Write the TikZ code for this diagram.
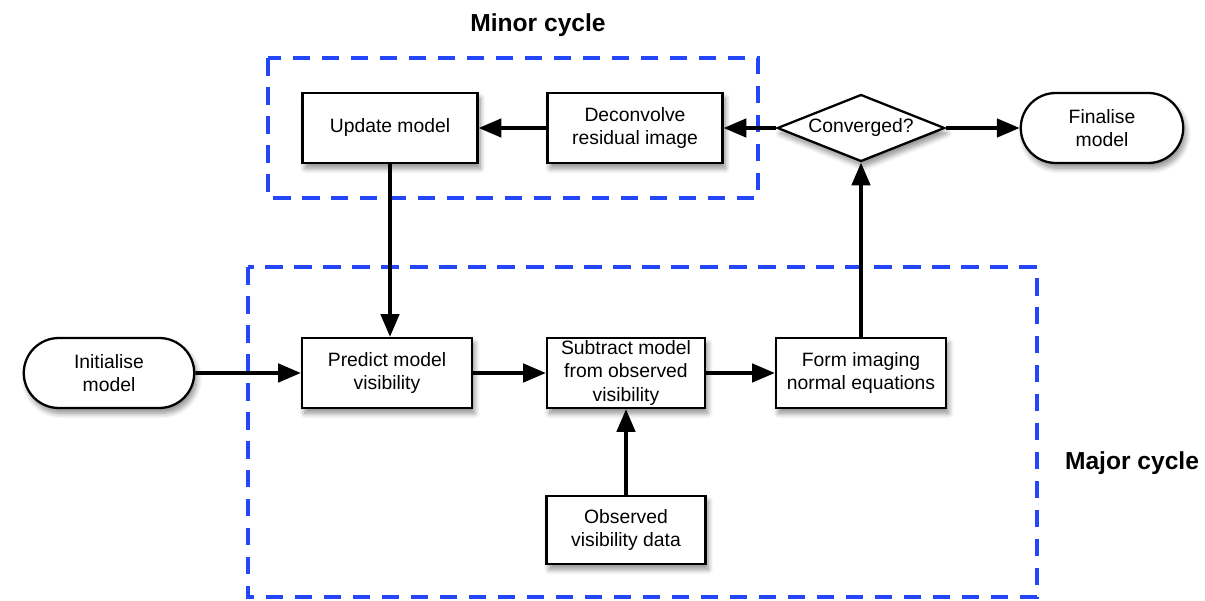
\documentclass[tikz,border=0pt]{standalone}
\usepackage{fontspec}
\setmainfont{Liberation Sans}
\usetikzlibrary{shapes.geometric,shapes.misc,shadows.blur,arrows.meta}
\definecolor{dashblue}{RGB}{35,70,250}
\tikzset{
  proc/.style={draw=black, line width=1.3pt, fill=white, minimum width=3.5cm, minimum height=1.4cm,
    align=center, font=\fontsize{11}{13.5}\selectfont, inner sep=1pt,
    blur shadow={shadow xshift=1.5pt, shadow yshift=-3pt, shadow blur steps=8, shadow blur radius=3pt, shadow opacity=45}},
  term/.style={proc, rounded rectangle},
  decision/.style={proc, diamond, aspect=2.5, minimum width=3.35cm, minimum height=1.34cm, inner sep=0pt},
  flow/.style={line width=2pt, -{Triangle[length=13pt, width=10.5pt]}},
  cyclebox/.style={draw=dashblue, line width=2.2pt, dash pattern=on 10pt off 6.5pt},
  cyclelabel/.style={font=\bfseries\fontsize{14}{16}\selectfont}
}
\begin{document}
\begin{tikzpicture}[x=0.02cm,y=-0.02cm]
\useasboundingbox (0,0) rectangle (1205,601);
% dashed cycle boxes
\draw[cyclebox] (268,58) rectangle (758,198);
\draw[cyclebox] (248,267) rectangle (1037,597);
\node[cyclelabel] (minorlbl) at (538,25) {Minor cycle};
\node[cyclelabel] (majorlbl) at (1132,463) {Major cycle};
% nodes
\node[proc] (update) at (390,128) {Update model};
\node[proc] (deconv) at (635,128) {Deconvolve\\residual image};
\node[decision] (conv) at (861,128) {Converged?};
\node[term, minimum width=3.32cm] (final) at (1102,128) {Finalise\\model};
\node[term, minimum width=3.48cm] (init) at (109,373) {Initialise\\model};
\node[proc, minimum width=3.4cm] (predict) at (387,373) {Predict model\\visibility};
\node[proc, minimum width=3.16cm] (subtract) at (626,373) {Subtract model\\from observed\\visibility};
\node[proc, minimum width=3.4cm] (form) at (861,373) {Form imaging\\normal equations};
\node[proc, minimum width=3.18cm, minimum height=1.36cm] (observed) at (626,530) {Observed\\visibility data};
% connectors
\draw[flow] (deconv) -- (update);
\draw[flow] (conv) -- (deconv);
\draw[flow] (conv) -- (final);
\draw[flow] (update) -- (update |- predict.north);
\draw[flow] (init) -- (predict);
\draw[flow] (predict) -- (subtract);
\draw[flow] (subtract) -- (form);
\draw[flow] (observed) -- (subtract);
\draw[flow] (form) -- (conv);
\end{tikzpicture}
\end{document}
